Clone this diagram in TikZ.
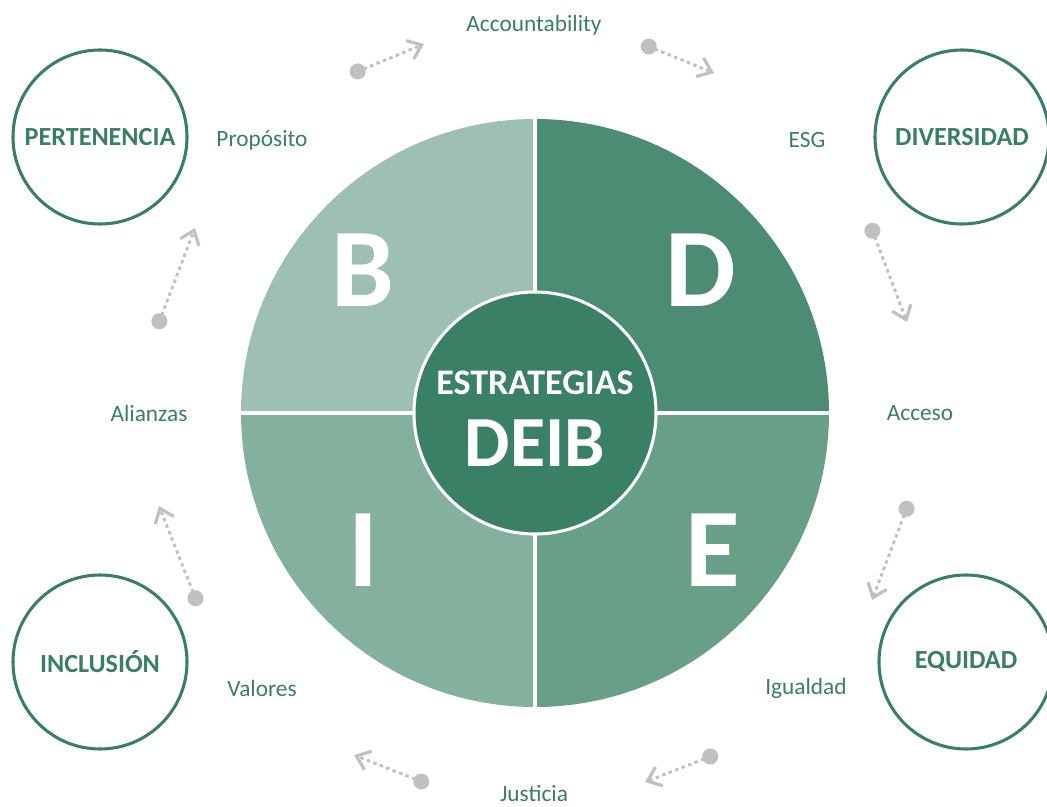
\documentclass[tikz,border=0pt]{standalone}
\usepackage{fontspec}
\setmainfont{Carlito}
\usetikzlibrary{arrows.meta}
\definecolor{dgreen}{HTML}{3A7F63}
\definecolor{qB}{HTML}{9DC0B2}
\definecolor{qD}{HTML}{4B8C72}
\definecolor{qI}{HTML}{84B19E}
\definecolor{qE}{HTML}{67A087}
\definecolor{qC}{HTML}{3A8064}
\definecolor{agray}{HTML}{C0C0C0}
\begin{document}
\begin{tikzpicture}[x=0.75pt,y=-0.75pt,
  ring/.style={draw=dgreen,line width=2.3pt,circle,minimum size=174*0.75pt,inner sep=0pt,
     text=dgreen,font=\fontsize{19.6}{21}\selectfont\bfseries},
  lbl/.style={text=dgreen,font=\fontsize{17.5}{19}\selectfont,inner sep=0pt},
  big/.style={text=white,font=\fontsize{84}{90}\selectfont\bfseries,inner sep=0pt},
  flow/.style={draw=agray,line width=2.2pt,dash pattern=on 2.6pt off 2.6pt,
     {Circle[length=12pt,width=12pt]}-{Straight Barb[length=9.5pt,width=15pt,line width=2.4pt]},
     shorten <=-3pt}]
\useasboundingbox (0,0) rectangle (1047,807);
\coordinate (C) at (535,413);
% quadrants
\fill[qB] (C) -- ++(-294,0) arc[start angle=180,end angle=270,radius=294] -- cycle;
\fill[qD] (C) -- ++(0,-294) arc[start angle=270,end angle=360,radius=294] -- cycle;
\fill[qE] (C) -- ++(294,0) arc[start angle=0,end angle=90,radius=294] -- cycle;
\fill[qI] (C) -- ++(0,294) arc[start angle=90,end angle=180,radius=294] -- cycle;
\draw[white,line width=3pt] (C) ++(-296,0) -- ++(592,0);
\draw[white,line width=3pt] (C) ++(0,-296) -- ++(0,592);
\node[circle,fill=qC,draw=white,line width=2.3pt,minimum size=242*0.75pt,inner sep=0pt] (center) at (C) {};
\node[text=white,font=\fontsize{27}{29}\selectfont\bfseries,inner sep=0pt] (estr) at (535,383) {ESTRATEGIAS};
\node[text=white,font=\fontsize{54}{56}\selectfont\bfseries,inner sep=0pt] (deib) at (535,443) {DEIB};
\node[big] (B) at (363,270) {B};
\node[big] (D) at (701,270) {D};
\node[big] (I) at (363,550) {I};
\node[big] (E) at (713,550) {E};
% outer circles
\node[ring] (pert) at (100,137) {PERTENENCIA};
\node[ring] (div) at (962,137) {DIVERSIDAD};
\node[ring] (incl) at (100,662) {INCLUSIÓN};
\node[ring] (equi) at (966,662) {EQUIDAD};
% labels
\node[lbl] (acc) at (534,25) {Accountability};
\node[lbl] (prop) at (262,140) {Propósito};
\node[lbl] (esg) at (807,140) {ESG};
\node[lbl] (ali) at (149,413) {Alianzas};
\node[lbl] (acce) at (920,413) {Acceso};
\node[lbl] (val) at (262,688) {Valores};
\node[lbl] (igu) at (806,688) {Igualdad};
\node[lbl] (jus) at (534,794) {Justicia};
% arrows
\coordinate (a1s) at (354,73); \coordinate (a1e) at (424,44);
\coordinate (a2s) at (645,45); \coordinate (a2e) at (714,73);
\coordinate (a3s) at (871,227); \coordinate (a3e) at (907,322);
\coordinate (a4s) at (908,505); \coordinate (a4e) at (872,600);
\coordinate (a5s) at (714,755); \coordinate (a5e) at (645,782);
\coordinate (a6s) at (425,783); \coordinate (a6e) at (354,755);
\coordinate (a7s) at (197,602); \coordinate (a7e) at (159,506);
\coordinate (a8s) at (158,325); \coordinate (a8e) at (195,228);
\foreach \i in {1,...,8} {\draw[flow] (a\i s) -- (a\i e);}
\end{tikzpicture}
\end{document}
